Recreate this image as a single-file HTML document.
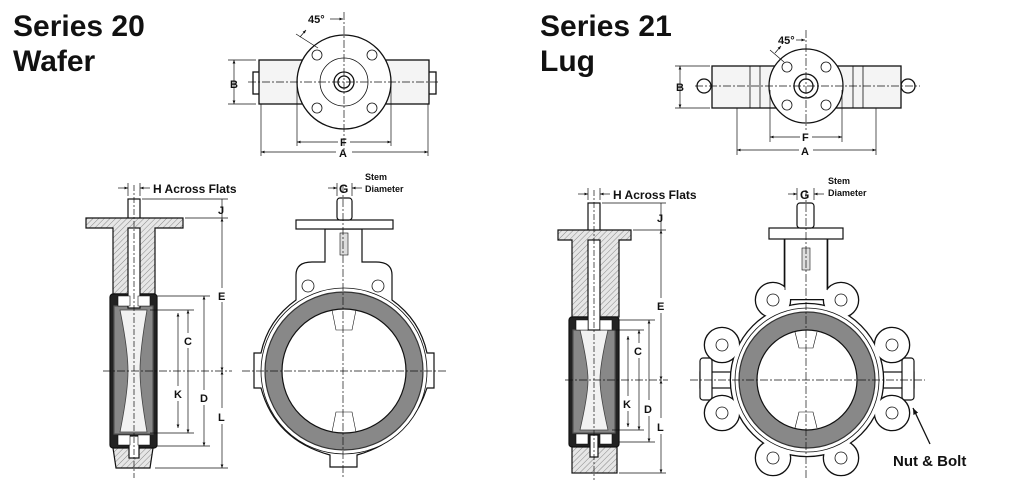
<!DOCTYPE html>
<html><head><meta charset="utf-8"><style>
html,body{margin:0;padding:0;background:#fff;}
svg{display:block}
.t{font-family:"Liberation Sans",sans-serif;font-weight:bold;fill:#111}
</style></head><body>
<svg width="1024" height="488" viewBox="0 0 1024 488" xmlns="http://www.w3.org/2000/svg">
<defs>
<pattern id="h" width="4" height="4" patternUnits="userSpaceOnUse" patternTransform="rotate(45)">
<rect width="4" height="4" fill="#e6e6e6"/><line x1="0" y1="0" x2="0" y2="4" stroke="#888" stroke-width="1"/></pattern>
<marker id="a" viewBox="0 0 10 10" refX="10" refY="5" markerWidth="5" markerHeight="5" orient="auto-start-reverse"><path d="M0,1L10,5L0,9z" fill="#111"/></marker>
<g id="lugbody">
<circle cx="773" cy="300" r="17"/><circle cx="841" cy="300" r="17"/>
<circle cx="722" cy="345" r="17"/><circle cx="892" cy="345" r="17"/>
<circle cx="722" cy="413" r="17"/><circle cx="892" cy="413" r="17"/>
<circle cx="773" cy="458" r="17"/><circle cx="841" cy="458" r="17"/>
<circle cx="807" cy="380" r="76"/>
<rect x="785" y="239" width="42" height="60"/>
</g>
</defs>
<text class="t" x="13" y="36" font-size="30">Series 20</text>
<text class="t" x="13" y="71" font-size="30">Wafer</text>
<text class="t" x="540" y="36" font-size="30">Series 21</text>
<text class="t" x="540" y="71" font-size="30">Lug</text>

<!-- TOP VIEW 1 -->
<g fill="#fff" stroke="#111" stroke-width="1.3">
<rect x="253" y="72" width="8" height="22"/><rect x="428" y="72" width="8" height="22"/>
<rect x="259" y="60" width="170" height="44" fill="#f4f4f4"/>
<circle cx="344" cy="82" r="47"/>
<circle cx="344" cy="82" r="24" stroke-width="0.8"/>
<circle cx="344" cy="82" r="10"/><circle cx="344" cy="82" r="6"/>
<g stroke-width="0.8"><circle cx="317" cy="55" r="5"/><circle cx="372" cy="55" r="5"/><circle cx="317" cy="108" r="5"/><circle cx="372" cy="108" r="5"/></g>
</g>
<g stroke="#111" stroke-width="0.7" fill="none">
<line x1="248" y1="82" x2="440" y2="82" stroke-dasharray="8,2,2,2"/>
<line x1="344" y1="12" x2="344" y2="150" stroke-dasharray="8,2,2,2"/>
<line x1="297" y1="82" x2="297" y2="146"/><line x1="391" y1="82" x2="391" y2="146"/>
<line x1="261" y1="104" x2="261" y2="156"/><line x1="428" y1="104" x2="428" y2="156"/>
<line x1="228" y1="60" x2="256" y2="60"/><line x1="228" y1="104" x2="256" y2="104"/>
<line x1="234" y1="60" x2="234" y2="104" marker-start="url(#a)" marker-end="url(#a)"/>
<line x1="297" y1="142" x2="338" y2="142" marker-start="url(#a)"/><line x1="350" y1="142" x2="391" y2="142" marker-end="url(#a)"/>
<line x1="261" y1="152" x2="336" y2="152" marker-start="url(#a)"/><line x1="352" y1="152" x2="428" y2="152" marker-end="url(#a)"/>
<line x1="296" y1="34" x2="318" y2="48"/>
<path d="M300 37 L306 30" marker-end="url(#a)"/>
<line x1="330" y1="19" x2="343" y2="19" marker-end="url(#a)"/>
</g>
<text class="t" x="308" y="23" font-size="11">45°</text>
<text class="t" x="230" y="88" font-size="11">B</text>
<text class="t" x="340" y="146" font-size="11">F</text>
<text class="t" x="339" y="157" font-size="11">A</text>

<!-- TOP VIEW 2 -->
<g fill="#fff" stroke="#111" stroke-width="1.3">
<circle cx="704" cy="86" r="7"/><circle cx="908" cy="86" r="7"/>
<rect x="712" y="66" width="189" height="42" fill="#f4f4f4"/>
<line x1="750" y1="66" x2="750" y2="108" stroke-width="0.8"/><line x1="760" y1="66" x2="760" y2="108" stroke-width="0.8"/>
<line x1="853" y1="66" x2="853" y2="108" stroke-width="0.8"/><line x1="863" y1="66" x2="863" y2="108" stroke-width="0.8"/>
<circle cx="806" cy="86" r="37"/>
<circle cx="806" cy="86" r="12"/><circle cx="806" cy="86" r="7"/>
<g stroke-width="0.8"><circle cx="787" cy="67" r="5"/><circle cx="826" cy="67" r="5"/><circle cx="787" cy="105" r="5"/><circle cx="826" cy="105" r="5"/></g>
</g>
<g stroke="#111" stroke-width="0.7" fill="none">
<line x1="695" y1="86" x2="920" y2="86" stroke-dasharray="8,2,2,2"/>
<line x1="806" y1="30" x2="806" y2="130" stroke-dasharray="8,2,2,2"/>
<line x1="770" y1="90" x2="770" y2="142"/><line x1="842" y1="90" x2="842" y2="142"/>
<line x1="737" y1="108" x2="737" y2="155"/><line x1="876" y1="108" x2="876" y2="155"/>
<line x1="675" y1="66" x2="710" y2="66"/><line x1="675" y1="108" x2="710" y2="108"/>
<line x1="680" y1="66" x2="680" y2="108" marker-start="url(#a)" marker-end="url(#a)"/>
<line x1="770" y1="137" x2="800" y2="137" marker-start="url(#a)"/><line x1="812" y1="137" x2="842" y2="137" marker-end="url(#a)"/>
<line x1="737" y1="150" x2="799" y2="150" marker-start="url(#a)"/><line x1="813" y1="150" x2="876" y2="150" marker-end="url(#a)"/>
<line x1="770" y1="50" x2="784" y2="62"/>
<path d="M775 53 L781 46" marker-end="url(#a)"/>
<line x1="796" y1="40" x2="805" y2="40" marker-end="url(#a)"/>
</g>
<text class="t" x="778" y="44" font-size="11">45°</text>
<text class="t" x="676" y="91" font-size="11">B</text>
<text class="t" x="802" y="141" font-size="11">F</text>
<text class="t" x="801" y="155" font-size="11">A</text>

<!-- SIDE VIEW 1 (wafer) -->
<g stroke="#111" stroke-width="1.2">
<rect x="128" y="199" width="12" height="20" fill="#fff"/>
<path d="M86 218 H183 V228 H155 V294 H113 V228 H86 Z" fill="url(#h)"/>
<rect x="110" y="294" width="47" height="154" fill="#222" rx="3"/>
<rect x="114" y="306" width="39" height="128" fill="#888" stroke="#555"/>
<path d="M120 310 Q128 350 128 371 Q128 392 120 432 H147 Q140 392 140 371 Q140 350 147 310 Z" fill="#f2f2f2" stroke="#444" stroke-width="0.8"/>
<path d="M113 448 H153 L150 468 H116 Z" fill="url(#h)"/>
<rect x="128" y="228" width="12" height="80" fill="#fff"/>
<rect x="129" y="436" width="10" height="22" fill="#fff"/>
<path d="M118 296 h12 v10 h-12z M138 296 h12 v10 h-12z M118 435 h12 v10 h-12z M138 435 h12 v10 h-12z" fill="#fff" stroke-width="0.6"/>
</g>
<g stroke="#111" stroke-width="0.7" fill="none">
<line x1="134" y1="185" x2="134" y2="478" stroke-dasharray="6,2,2,2"/>
<line x1="103" y1="371" x2="232" y2="371" stroke-dasharray="8,2,2,2"/>
<line x1="142" y1="199" x2="228" y2="199"/><line x1="185" y1="218" x2="228" y2="218"/>
<line x1="155" y1="468" x2="228" y2="468"/>
<line x1="157" y1="296" x2="210" y2="296"/><line x1="157" y1="446" x2="210" y2="446"/>
<line x1="150" y1="310" x2="194" y2="310"/><line x1="150" y1="433" x2="194" y2="433"/>
<line x1="222" y1="199" x2="222" y2="218"/>
<line x1="222" y1="218" x2="222" y2="288" marker-start="url(#a)"/><line x1="222" y1="302" x2="222" y2="371" marker-end="url(#a)"/>
<line x1="222" y1="371" x2="222" y2="408" marker-start="url(#a)"/><line x1="222" y1="424" x2="222" y2="468" marker-end="url(#a)"/>
<line x1="204" y1="296" x2="204" y2="390" marker-start="url(#a)"/><line x1="204" y1="405" x2="204" y2="446" marker-end="url(#a)"/>
<line x1="188" y1="310" x2="188" y2="333" marker-start="url(#a)"/><line x1="188" y1="348" x2="188" y2="433" marker-end="url(#a)"/>
<line x1="178" y1="313" x2="178" y2="386" marker-start="url(#a)"/><line x1="178" y1="401" x2="178" y2="428" marker-end="url(#a)"/>
<line x1="128" y1="183" x2="128" y2="196"/><line x1="140" y1="183" x2="140" y2="196"/>
<line x1="118" y1="188" x2="128" y2="188" marker-end="url(#a)"/><line x1="150" y1="188" x2="140" y2="188" marker-end="url(#a)"/>
</g>
<text class="t" x="153" y="193" font-size="12">H Across Flats</text>
<text class="t" x="218" y="214" font-size="11">J</text>
<text class="t" x="218" y="300" font-size="11">E</text>
<text class="t" x="218" y="421" font-size="11">L</text>
<text class="t" x="200" y="402" font-size="11">D</text>
<text class="t" x="184" y="345" font-size="11">C</text>
<text class="t" x="174" y="398" font-size="11">K</text>

<!-- FRONT VIEW 1 -->
<g stroke="#111" stroke-width="1.2" fill="#fff">
<path d="M296 275 Q296 262 312 262 L325 262 V229 H362 V262 H376 Q392 262 392 275 V300 Q420 320 427 353 H434 V388 H427 Q410 440 357 455 V467 H330 V455 Q275 440 261 388 H254 V353 H261 Q268 320 296 300 Z"/>
<rect x="296" y="220" width="97" height="9"/>
<rect x="337" y="198" width="15" height="22" rx="3"/>
<circle cx="308" cy="286" r="6" stroke-width="0.8"/><circle cx="378" cy="286" r="6" stroke-width="0.8"/>
<circle cx="344" cy="371" r="83" stroke-width="0.8"/>
<circle cx="344" cy="371" r="79" fill="#888" stroke="#333"/>
<circle cx="344" cy="371" r="62" fill="#fff"/>
<rect x="340" y="233" width="8" height="22" fill="#ddd" stroke-width="0.6"/>
</g>
<g stroke="#111" stroke-width="0.7" fill="none">
<line x1="343" y1="185" x2="343" y2="478" stroke-dasharray="8,2,2,2"/>
<line x1="242" y1="371" x2="448" y2="371" stroke-dasharray="8,2,2,2"/>
<path d="M332 310 L336 330 H352 L356 310 M332 432 L336 412 H352 L356 432" stroke-width="0.6"/>
<line x1="337" y1="183" x2="337" y2="196"/><line x1="352" y1="183" x2="352" y2="196"/>
<line x1="328" y1="188" x2="337" y2="188" marker-end="url(#a)"/><line x1="362" y1="188" x2="352" y2="188" marker-end="url(#a)"/>
</g>
<text class="t" x="339" y="193" font-size="12">G</text>
<text class="t" x="365" y="180" font-size="9">Stem</text>
<text class="t" x="365" y="192" font-size="9">Diameter</text>

<!-- SIDE VIEW 2 (lug) -->
<g stroke="#111" stroke-width="1.2">
<rect x="588" y="203" width="12" height="28" fill="#fff"/>
<path d="M558 230 H631 V240 H619 V317 H572 V240 H558 Z" fill="url(#h)"/>
<rect x="569" y="317" width="50" height="130" fill="#222" rx="3"/>
<rect x="573" y="330" width="42" height="103" fill="#888" stroke="#555"/>
<path d="M580 330 Q588 365 588 380 Q588 395 580 430 H608 Q600 395 600 380 Q600 365 608 330 Z" fill="#f2f2f2" stroke="#444" stroke-width="0.8"/>
<rect x="572" y="447" width="45" height="26" fill="url(#h)"/>
<rect x="588" y="240" width="12" height="90" fill="#fff"/>
<rect x="590" y="435" width="8" height="22" fill="#fff"/>
<path d="M576 320 h12 v10 h-12z M600 320 h12 v10 h-12z M576 434 h12 v10 h-12z M600 434 h12 v10 h-12z" fill="#fff" stroke-width="0.6"/>
</g>
<g stroke="#111" stroke-width="0.7" fill="none">
<line x1="594" y1="190" x2="594" y2="480" stroke-dasharray="6,2,2,2"/>
<line x1="565" y1="380" x2="668" y2="380" stroke-dasharray="8,2,2,2"/>
<line x1="602" y1="203" x2="666" y2="203"/><line x1="633" y1="230" x2="666" y2="230"/>
<line x1="619" y1="473" x2="666" y2="473"/>
<line x1="619" y1="320" x2="655" y2="320"/><line x1="619" y1="442" x2="655" y2="442"/>
<line x1="612" y1="330" x2="644" y2="330"/><line x1="612" y1="430" x2="644" y2="430"/>
<line x1="661" y1="203" x2="661" y2="230"/>
<line x1="661" y1="230" x2="661" y2="298" marker-start="url(#a)"/><line x1="661" y1="313" x2="661" y2="380" marker-end="url(#a)"/>
<line x1="661" y1="380" x2="661" y2="418" marker-start="url(#a)"/><line x1="661" y1="434" x2="661" y2="473" marker-end="url(#a)"/>
<line x1="649" y1="320" x2="649" y2="400" marker-start="url(#a)"/><line x1="649" y1="416" x2="649" y2="442" marker-end="url(#a)"/>
<line x1="639" y1="330" x2="639" y2="343" marker-start="url(#a)"/><line x1="639" y1="358" x2="639" y2="430" marker-end="url(#a)"/>
<line x1="628" y1="336" x2="628" y2="396" marker-start="url(#a)"/><line x1="628" y1="411" x2="628" y2="427" marker-end="url(#a)"/>
<line x1="588" y1="188" x2="588" y2="200"/><line x1="600" y1="188" x2="600" y2="200"/>
<line x1="578" y1="194" x2="588" y2="194" marker-end="url(#a)"/><line x1="610" y1="194" x2="600" y2="194" marker-end="url(#a)"/>
</g>
<text class="t" x="613" y="199" font-size="12">H Across Flats</text>
<text class="t" x="657" y="222" font-size="11">J</text>
<text class="t" x="657" y="310" font-size="11">E</text>
<text class="t" x="657" y="431" font-size="11">L</text>
<text class="t" x="644" y="413" font-size="11">D</text>
<text class="t" x="634" y="355" font-size="11">C</text>
<text class="t" x="623" y="408" font-size="11">K</text>

<!-- FRONT VIEW 2 -->
<g stroke="#111" stroke-width="1.2" fill="#fff">
<rect x="700" y="372" width="42" height="16"/><rect x="872" y="372" width="42" height="16"/>
<rect x="700" y="358" width="12" height="42" rx="3"/><rect x="902" y="358" width="12" height="42" rx="3"/>
</g>
<use href="#lugbody" fill="#111" stroke="#111" stroke-width="2.6"/>
<use href="#lugbody" fill="#fff" stroke="none"/>
<g stroke="#111" stroke-width="1.2" fill="#fff">
<rect x="769" y="228" width="74" height="11"/>
<rect x="797" y="203" width="17" height="25" rx="3"/>
<line x1="785" y1="239" x2="785" y2="290" stroke-width="0.8"/><line x1="827" y1="239" x2="827" y2="290" stroke-width="0.8"/>
<circle cx="807" cy="380" r="72" stroke-width="0.8"/>
<circle cx="807" cy="380" r="68" fill="#888" stroke="#333"/>
<circle cx="807" cy="380" r="50" fill="#fff"/>
<g stroke-width="0.8">
<circle cx="773" cy="300" r="6"/><circle cx="841" cy="300" r="6"/>
<circle cx="722" cy="345" r="6"/><circle cx="892" cy="345" r="6"/>
<circle cx="722" cy="413" r="6"/><circle cx="892" cy="413" r="6"/>
<circle cx="773" cy="458" r="6"/><circle cx="841" cy="458" r="6"/>
</g>
<rect x="802" y="248" width="8" height="22" fill="#ddd" stroke-width="0.6"/>
</g>
<g stroke="#111" stroke-width="0.7" fill="none">
<line x1="806" y1="190" x2="806" y2="478" stroke-dasharray="8,2,2,2"/>
<line x1="690" y1="380" x2="925" y2="380" stroke-dasharray="8,2,2,2"/>
<path d="M795 332 L799 348 H813 L817 332 M795 428 L799 412 H813 L817 428" stroke-width="0.6"/>
<line x1="797" y1="188" x2="797" y2="200"/><line x1="814" y1="188" x2="814" y2="200"/>
<line x1="788" y1="194" x2="797" y2="194" marker-end="url(#a)"/><line x1="824" y1="194" x2="814" y2="194" marker-end="url(#a)"/>
<line x1="930" y1="444" x2="913" y2="408" stroke-width="1.3" marker-end="url(#a)"/>
</g>
<text class="t" x="800" y="199" font-size="12">G</text>
<text class="t" x="828" y="184" font-size="9">Stem</text>
<text class="t" x="828" y="196" font-size="9">Diameter</text>
<text class="t" x="893" y="466" font-size="15">Nut &amp; Bolt</text>
</svg>
</body></html>
